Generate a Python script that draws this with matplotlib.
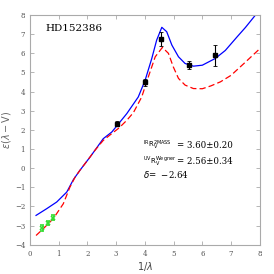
import numpy as np
import matplotlib
matplotlib.use("Agg")
import matplotlib.pyplot as plt

plt.rcParams['font.family'] = ['DejaVu Serif']

# observed points (black, with errors)
obs_x = [3.02, 4.01, 4.55, 5.55, 6.45]
obs_y = [2.33, 4.48, 6.74, 5.38, 5.89]
obs_err = [0.12, 0.20, 0.37, 0.20, 0.55]

# near-IR points (green)
ir_x = [0.43, 0.62, 0.79]
ir_y = [-3.14, -2.87, -2.58]
ir_err = [0.15, 0.12, 0.12]

# fitted curve, blue
blue_x = [0.21, 0.58, 0.93, 1.28, 1.51, 1.74, 2.09, 2.26, 2.55, 2.85, 3.37, 3.77, 4.01,
          4.24, 4.41, 4.59, 4.76, 4.94, 5.17, 5.40, 5.69, 6.0, 6.45, 6.8, 7.21, 7.5, 7.85]
blue_y = [-2.47, -2.12, -1.77, -1.25, -0.6, -0.11, 0.58, 0.93, 1.54, 1.89, 2.85, 3.72, 4.60,
          5.73, 6.69, 7.36, 7.13, 6.43, 5.82, 5.47, 5.33, 5.38, 5.73, 6.15, 6.86, 7.35, 8.0]

# curve, red dashed
red_x = [0.21, 0.46, 0.81, 1.16, 1.39, 1.57, 1.74, 2.09, 2.26, 2.55, 2.8, 3.1, 3.37, 3.6,
         3.89, 4.12, 4.36, 4.61, 4.82, 4.99, 5.17, 5.40, 5.69, 6.0, 6.3, 6.63, 7.0, 7.45, 8.0]
red_y = [-3.52, -3.17, -2.64, -1.86, -0.99, -0.47, -0.11, 0.58, 0.93, 1.45, 1.75, 2.1, 2.5, 2.9,
         3.72, 4.77, 5.82, 6.31, 6.0, 5.29, 4.69, 4.34, 4.16, 4.15, 4.3, 4.51, 4.85, 5.47, 6.24]

fig = plt.figure(figsize=(2.74, 2.74), dpi=100)
ax = fig.add_axes([0.1095, 0.107, 0.8385, 0.838])

ax.plot(blue_x, blue_y, color='blue', lw=0.9)
ax.plot(red_x, red_y, color='red', lw=0.9, dashes=(5, 2.5))
ax.errorbar(obs_x, obs_y, yerr=obs_err, fmt='s', color='black', ms=2.2,
            elinewidth=0.8, capsize=1.5, capthick=0.6)
ax.errorbar(ir_x, ir_y, yerr=ir_err, fmt='x', color='#33dd33', ms=3,
            elinewidth=0.8, capsize=1.5, capthick=0.6, mew=1.2)

ax.set_xlim(0, 8)
ax.set_ylim(-4, 8)
ax.set_xticks(range(0, 9))
ax.set_yticks(range(-4, 9))
ax.tick_params(direction='in', top=True, right=True, labelsize=5,
               length=3, width=0.5, colors='#999999', labelcolor='#555555')
for s in ax.spines.values():
    s.set_color('#aaaaaa')
    s.set_linewidth(0.8)

ax.set_xlabel(r'$1/\lambda$', fontsize=7, labelpad=2, color='#444444')
ax.set_ylabel(r'$\epsilon(\lambda-{\rm V})$', fontsize=7, labelpad=1, color='#666666')

ax.text(0.55, 7.15, 'HD152386', fontsize=7.5)
ax.text(3.92, 1.19, r'${}^{\rm IR}{\rm R}_{\rm V}^{\rm 2MASS}$', fontsize=5, va='center')
ax.text(5.12, 1.19, '= 3.60\u00b10.20', fontsize=6.2, va='center')
ax.text(3.92, 0.37, r'${}^{\rm UV}{\rm R}_{\rm V}^{\rm Wegner}$', fontsize=5, va='center')
ax.text(5.12, 0.37, '= 2.56\u00b10.34', fontsize=6.2, va='center')
ax.text(3.95, -0.33, r'$\delta$=  $-$2.64', fontsize=6.2, va='center')

fig.savefig('out.png', dpi=100)
